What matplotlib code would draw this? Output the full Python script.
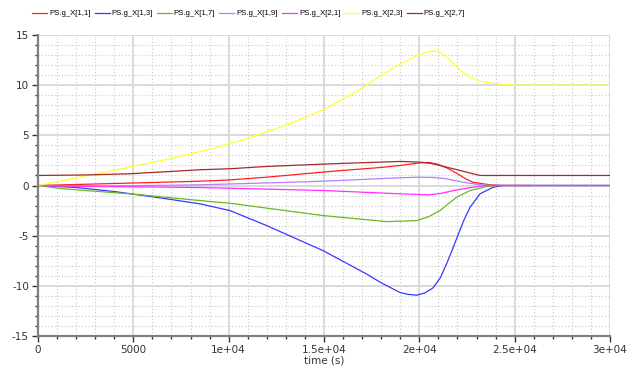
import matplotlib
matplotlib.use("Agg")
import matplotlib.pyplot as plt
from matplotlib.ticker import MultipleLocator, FixedLocator, FixedFormatter
from matplotlib import font_manager

# ---- data ----
labels = ["PS.g_X[1,1]", "PS.g_X[1,3]", "PS.g_X[1,7]", "PS.g_X[1,9]",
          "PS.g_X[2,1]", "PS.g_X[2,3]", "PS.g_X[2,7]"]
colors = ["#ff2020", "#3838ff", "#66bb22", "#b27fff", "#ff30ff", "#ffff30", "#a82828"]

t_11 = [0, 3000, 6000, 8500, 10000, 12000, 15500, 18000, 19000, 20000, 20500, 21000, 21500, 22000, 22400, 22800, 23700, 24500, 25800]
v_11 = [0, 0.15, 0.3, 0.43, 0.55, 0.83, 1.43, 1.8, 2.0, 2.25, 2.3, 2.1, 1.7, 1.17, 0.7, 0.33, 0.07, 0.0, 0.0]

t_13 = [0, 2000, 4000, 5520, 7000, 8500, 10070, 12000, 14960, 17240, 18000, 18990, 19400, 19860, 20300, 20720, 21100, 21430, 21750, 22050, 22350, 22660, 23180, 23880, 24400, 30000]
v_13 = [0, -0.2, -0.6, -1.0, -1.4, -1.83, -2.5, -4.0, -6.5, -8.83, -9.7, -10.67, -10.85, -10.93, -10.7, -10.2, -9.2, -7.8, -6.3, -4.83, -3.4, -2.17, -0.83, -0.17, 0.0, 0.0]

t_17 = [0, 1310, 4825, 8500, 10070, 14960, 18290, 19860, 20500, 21080, 21500, 21960, 22660, 23530, 24100, 30000]
v_17 = [0, -0.33, -0.83, -1.5, -1.77, -3.0, -3.6, -3.5, -3.1, -2.5, -1.85, -1.17, -0.5, -0.1, 0.0, 0.0]

t_19 = [0, 3000, 6000, 8500, 11000, 15000, 19000, 20000, 20800, 21400, 22300, 23180, 24000, 30000]
v_19 = [0, -0.05, 0.0, 0.07, 0.2, 0.43, 0.77, 0.83, 0.8, 0.67, 0.33, 0.07, 0.0, 0.0]

t_21 = [0, 3000, 6000, 8500, 15000, 19000, 20500, 21100, 21800, 22800, 23500, 30000]
v_21 = [0, -0.1, -0.15, -0.2, -0.5, -0.83, -0.93, -0.8, -0.5, -0.17, 0.0, 0.0]

t_23 = [0, 1500, 3000, 5000, 7000, 9000, 11000, 13000, 15000, 16000, 17000, 17940, 18990, 20030, 20600, 21000, 21600, 22130, 22650, 23180, 23970, 25000, 30000]
v_23 = [0, 0.57, 1.17, 1.9, 2.7, 3.6, 4.7, 6.0, 7.6, 8.6, 9.7, 10.9, 12.1, 13.05, 13.4, 13.4, 12.5, 11.5, 10.8, 10.4, 10.15, 10.0, 10.0]

t_27 = [0, 2500, 4825, 8500, 10070, 12000, 15490, 18990, 20030, 20600, 21080, 21600, 22130, 22650, 23180, 30000]
v_27 = [1.0, 1.05, 1.17, 1.57, 1.67, 1.9, 2.17, 2.4, 2.33, 2.2, 2.0, 1.75, 1.5, 1.25, 1.0, 1.0]

series_t = [t_11, t_13, t_17, t_19, t_21, t_23, t_27]
series_v = [v_11, v_13, v_17, v_19, v_21, v_23, v_27]

xticks = [0, 5000, 10000, 15000, 20000, 25000, 30000]
xticklabels = ["0", "5000", "1e+04", "1.5e+04", "2e+04", "2.5e+04", "3e+04"]
yticks = [-15, -10, -5, 0, 5, 10, 15]
yticklabels = ["-15", "-10", "-5", "0", "5", "10", "15"]

# ---- figure ----
plt.rcParams['font.family'] = ['DejaVu Sans']
available = {f.name for f in font_manager.fontManager.ttflist}
if 'Liberation Sans Narrow' in available:
    legend_family, legend_size = 'Liberation Sans Narrow', 6.6
else:
    legend_family, legend_size = 'Liberation Sans', 5.6
px_per_em = legend_size * 100 / 72.0

fig = plt.figure(figsize=(6.33, 3.67), dpi=100)
ax = fig.add_axes([38/633, 1-336/367, (610-38)/633, (336-35)/367])

for t, v, c, lab in zip(series_t, series_v, colors, labels):
    ax.plot(t, v, color=c, lw=0.9, label=lab)

ax.set_xlim(0, 30000)
ax.set_ylim(-15, 15)
ax.xaxis.set_major_locator(FixedLocator(xticks))
ax.xaxis.set_major_formatter(FixedFormatter(xticklabels))
ax.yaxis.set_major_locator(FixedLocator(yticks))
ax.yaxis.set_major_formatter(FixedFormatter(yticklabels))
ax.xaxis.set_minor_locator(MultipleLocator(1000))
ax.yaxis.set_minor_locator(MultipleLocator(1))

ax.grid(which='major', color='#d8d8d8', lw=1.3, ls='-')
ax.grid(which='minor', color='#c8c8c8', lw=0.8, ls=(0, (1, 2)))
ax.set_axisbelow(True)

for s in ['top', 'right']:
    ax.spines[s].set_visible(False)
for s in ['left', 'bottom']:
    ax.spines[s].set_color('#808080')
    ax.spines[s].set_linewidth(1.6)

ax.tick_params(which='major', direction='out', length=4, width=1, color='#333333',
               labelsize=7.5, labelcolor='#333333', pad=2.5)
ax.tick_params(which='minor', direction='out', length=2.5, width=1, color='#333333')

ax.set_xlabel("time (s)", fontsize=7.5, color='#333333', labelpad=0)

fig.legend(loc='upper left', bbox_to_anchor=(32/633, 1-10/367), ncol=7, frameon=False,
           prop={'family': legend_family, 'size': legend_size},
           handlelength=15/px_per_em, handletextpad=2/px_per_em, columnspacing=4/px_per_em,
           borderpad=0, borderaxespad=0)

fig.savefig("out.png", dpi=100)
